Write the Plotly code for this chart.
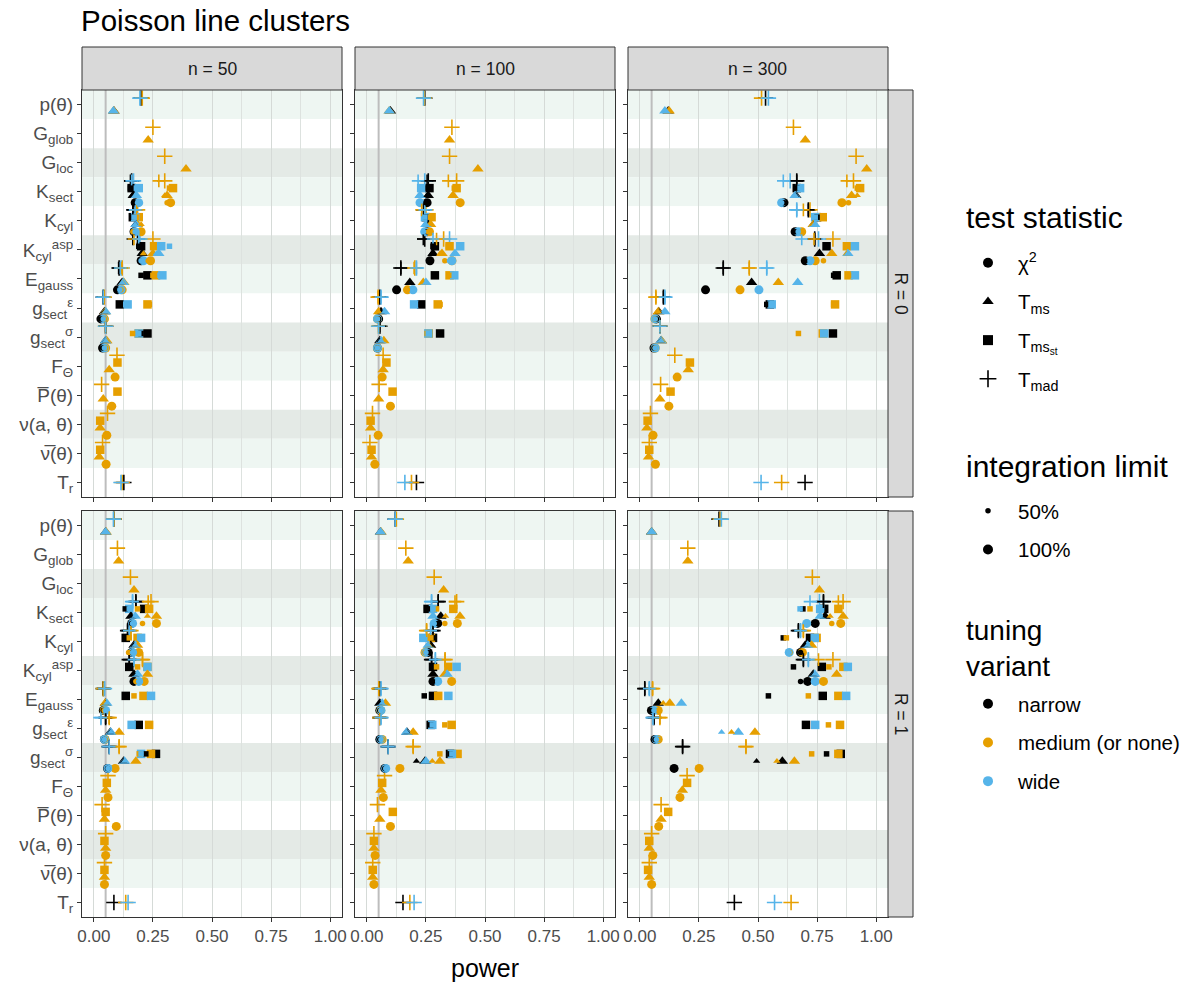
import plotly.graph_objects as go

W, H = 1193, 985

# ---------------- data ----------------
cat_codes = ["p", "Gg", "Gl", "Ks", "Kc", "Ka", "E", "ge", "gs", "F", "Pb", "nu", "nub", "Tr"]
cat_labels = ["p(θ)", "G<sub>glob</sub>", "G<sub>loc</sub>", "K<sub>sect</sub>", "K<sub>cyl</sub>",
              "K<sub>cyl</sub><sup>asp</sup>", "E<sub>gauss</sub>", "g<sub>sect</sub><sup>ε</sup>",
              "g<sub>sect</sub><sup>σ</sup>", "F<sub>Θ</sub>", "P\u0305(θ)", "ν(a, θ)", "ν\u0305(θ)", "T<sub>r</sub>"]
n_labels = ["n = 50", "n = 100", "n = 300"]
r_labels = ["R = 0", "R = 1"]
x_ticks = [0, 0.25, 0.5, 0.75, 1.0]
x_ticklabels = ["0.00", "0.25", "0.50", "0.75", "1.00"]

# columns: category, statistic, narrow50, narrow100, medium50, medium100, wide50, wide100
N = None
r0_n50 = [
    ("p", "mad", N, 0.20, N, 0.205, N, 0.195), ("p", "ms", N, 0.085, N, 0.085, N, 0.083),
    ("Gg", "mad", N, N, N, 0.25, N, N), ("Gg", "ms", N, N, N, 0.23, N, N),
    ("Gl", "mad", N, N, N, 0.30, N, N), ("Gl", "ms", N, N, N, 0.39, N, N),
    ("Ks", "mad", 0.155, 0.16, 0.275, 0.30, 0.16, 0.168), ("Ks", "mst", 0.155, 0.16, 0.32, 0.335, 0.18, 0.19),
    ("Ks", "ms", 0.162, 0.167, 0.30, 0.31, 0.175, 0.18), ("Ks", "chi", 0.17, 0.175, 0.31, 0.325, 0.185, 0.19),
    ("Kc", "mad", 0.165, 0.17, 0.18, 0.185, 0.175, 0.175), ("Kc", "mst", 0.165, 0.165, 0.18, 0.19, 0.17, 0.175),
    ("Kc", "ms", 0.175, 0.18, 0.20, 0.185, 0.175, 0.178), ("Kc", "chi", 0.17, 0.17, 0.165, 0.20, 0.175, 0.175),
    ("Ka", "mad", 0.165, 0.185, 0.17, 0.25, 0.19, 0.195), ("Ka", "mst", 0.19, 0.20, 0.25, 0.255, 0.32, 0.285),
    ("Ka", "ms", 0.20, 0.205, 0.21, 0.25, 0.265, 0.275), ("Ka", "chi", 0.195, 0.20, 0.23, 0.24, 0.20, 0.21),
    ("E", "mad", 0.105, 0.107, 0.118, 0.12, 0.112, 0.115), ("E", "mst", 0.20, 0.227, 0.25, 0.263, 0.28, 0.29),
    ("E", "ms", 0.115, 0.12, 0.122, 0.127, 0.12, 0.125), ("E", "chi", 0.10, 0.10, 0.115, 0.12, 0.11, 0.115),
    ("ge", "mad", 0.04, 0.04, 0.044, 0.044, 0.04, 0.04), ("ge", "mst", 0.108, 0.11, 0.235, 0.227, 0.135, 0.143),
    ("ge", "ms", 0.045, 0.045, 0.048, 0.048, 0.05, 0.05), ("ge", "chi", 0.03, 0.03, 0.045, 0.045, 0.04, 0.04),
    ("gs", "mad", 0.05, 0.05, 0.05, 0.05, 0.05, 0.05), ("gs", "mst", 0.20, 0.227, 0.164, 0.19, 0.19, 0.19),
    ("gs", "ms", 0.05, 0.05, 0.055, 0.055, 0.05, 0.05), ("gs", "chi", 0.037, 0.037, 0.05, 0.05, 0.045, 0.045),
    ("F", "mad", N, N, N, 0.098, N, N), ("F", "mst", N, N, N, 0.10, N, N),
    ("F", "ms", N, N, N, 0.065, N, N), ("F", "chi", N, N, N, 0.09, N, N),
    ("Pb", "mad", N, N, N, 0.033, N, N), ("Pb", "mst", N, N, N, 0.10, N, N),
    ("Pb", "ms", N, N, N, 0.04, N, N), ("Pb", "chi", N, N, N, 0.076, N, N),
    ("nu", "mad", N, N, N, 0.058, N, N), ("nu", "mst", N, N, N, 0.027, N, N),
    ("nu", "ms", N, N, N, 0.027, N, N), ("nu", "chi", N, N, N, 0.055, N, N),
    ("nub", "mad", N, N, N, 0.037, N, N), ("nub", "mst", N, N, N, 0.027, N, N),
    ("nub", "ms", N, N, N, 0.023, N, N), ("nub", "chi", N, N, N, 0.052, N, N),
    ("Tr", "mad", N, 0.127, N, 0.12, N, 0.115),
]
r0_n100 = [
    ("p", "mad", N, 0.245, N, 0.243, N, 0.24), ("p", "ms", N, 0.10, N, 0.095, N, 0.095),
    ("Gg", "mad", N, N, N, 0.36, N, N), ("Gg", "ms", N, N, N, 0.35, N, N),
    ("Gl", "mad", N, N, N, 0.35, N, N), ("Gl", "ms", N, N, N, 0.47, N, N),
    ("Ks", "mad", 0.255, 0.26, 0.345, 0.38, 0.217, 0.245), ("Ks", "mst", 0.26, 0.265, 0.37, 0.38, 0.225, 0.23),
    ("Ks", "ms", 0.255, 0.26, 0.36, 0.365, 0.22, 0.225), ("Ks", "chi", 0.25, 0.255, 0.39, 0.395, 0.22, 0.225),
    ("Kc", "mad", 0.24, 0.24, 0.232, 0.25, 0.245, 0.245), ("Kc", "mst", 0.25, 0.25, 0.27, 0.274, 0.246, 0.246),
    ("Kc", "ms", 0.26, 0.26, 0.265, 0.27, 0.25, 0.25), ("Kc", "chi", 0.255, 0.255, 0.26, 0.265, 0.24, 0.245),
    ("Ka", "mad", 0.239, 0.245, 0.295, 0.325, 0.28, 0.35), ("Ka", "mst", 0.28, 0.288, 0.345, 0.35, 0.39, 0.395),
    ("Ka", "ms", 0.275, 0.28, 0.31, 0.318, 0.37, 0.373), ("Ka", "chi", 0.265, 0.267, 0.33, 0.36, 0.35, 0.36),
    ("E", "mad", 0.144, 0.144, 0.20, 0.203, 0.21, 0.21), ("E", "mst", 0.288, 0.288, 0.35, 0.35, 0.37, 0.37),
    ("E", "ms", 0.182, 0.182, 0.239, 0.239, 0.25, 0.25), ("E", "chi", 0.126, 0.126, 0.172, 0.172, 0.195, 0.195),
    ("ge", "mad", 0.055, 0.055, 0.048, 0.048, 0.06, 0.06), ("ge", "mst", 0.23, 0.23, 0.31, 0.30, 0.20, 0.20),
    ("ge", "ms", 0.06, 0.06, 0.05, 0.05, 0.075, 0.075), ("ge", "chi", 0.05, 0.05, 0.045, 0.045, 0.045, 0.045),
    ("gs", "mad", 0.055, 0.055, 0.05, 0.05, 0.05, 0.05), ("gs", "mst", 0.31, 0.31, 0.255, 0.262, 0.26, 0.26),
    ("gs", "ms", 0.055, 0.055, 0.072, 0.072, 0.06, 0.06), ("gs", "chi", 0.045, 0.045, 0.045, 0.045, 0.045, 0.045),
    ("F", "mad", N, N, N, 0.069, N, N), ("F", "mst", N, N, N, 0.083, N, N),
    ("F", "ms", N, N, N, 0.069, N, N), ("F", "chi", N, N, N, 0.065, N, N),
    ("Pb", "mad", N, N, N, 0.052, N, N), ("Pb", "mst", N, N, N, 0.109, N, N),
    ("Pb", "ms", N, N, N, 0.05, N, N), ("Pb", "chi", N, N, N, 0.10, N, N),
    ("nu", "mad", N, N, N, 0.024, N, N), ("nu", "mst", N, N, N, 0.016, N, N),
    ("nu", "ms", N, N, N, 0.016, N, N), ("nu", "chi", N, N, N, 0.048, N, N),
    ("nub", "mad", N, N, N, 0.013, N, N), ("nub", "mst", N, N, N, 0.02, N, N),
    ("nub", "ms", N, N, N, 0.02, N, N), ("nub", "chi", N, N, N, 0.034, N, N),
    ("Tr", "mad", N, 0.21, N, 0.189, N, 0.161),
]
r0_n300 = [
    ("p", "mad", N, 0.532, N, 0.515, N, 0.544), ("p", "ms", N, 0.12, N, 0.124, N, 0.106),
    ("Gg", "mad", N, N, N, 0.65, N, N), ("Gg", "ms", N, N, N, 0.70, N, N),
    ("Gl", "mad", N, N, N, 0.915, N, N), ("Gl", "ms", N, N, N, 0.96, N, N),
    ("Ks", "mad", 0.664, 0.664, 0.876, 0.904, 0.607, 0.636), ("Ks", "mst", 0.664, 0.664, 0.92, 0.932, 0.678, 0.678),
    ("Ks", "ms", 0.66, 0.66, 0.92, 0.896, 0.657, 0.657), ("Ks", "chi", 0.61, 0.61, 0.883, 0.855, 0.60, 0.60),
    ("Kc", "mad", 0.713, 0.713, 0.692, 0.72, 0.664, 0.664), ("Kc", "mst", 0.75, 0.75, 0.774, 0.774, 0.742, 0.742),
    ("Kc", "ms", 0.735, 0.735, 0.734, 0.734, 0.74, 0.74), ("Kc", "chi", 0.657, 0.657, 0.685, 0.685, 0.67, 0.67),
    ("Ka", "mad", 0.74, 0.74, 0.737, 0.817, 0.685, 0.756), ("Ka", "mst", 0.79, 0.79, 0.876, 0.876, 0.91, 0.91),
    ("Ka", "ms", 0.76, 0.76, 0.875, 0.812, 0.88, 0.88), ("Ka", "chi", 0.70, 0.70, 0.777, 0.742, 0.72, 0.72),
    ("E", "mad", 0.353, 0.353, 0.463, 0.463, 0.537, 0.537), ("E", "mst", 0.82, 0.833, 0.883, 0.883, 0.91, 0.91),
    ("E", "ms", 0.473, 0.473, 0.586, 0.586, 0.668, 0.668), ("E", "chi", 0.278, 0.278, 0.424, 0.424, 0.504, 0.504),
    ("ge", "mad", 0.10, 0.10, 0.068, 0.068, 0.106, 0.106), ("ge", "mst", 0.537, 0.55, 0.82, 0.826, 0.555, 0.558),
    ("ge", "ms", 0.08, 0.08, 0.078, 0.078, 0.106, 0.106), ("ge", "chi", 0.07, 0.07, 0.064, 0.064, 0.065, 0.065),
    ("gs", "mad", 0.085, 0.085, 0.085, 0.085, 0.085, 0.085), ("gs", "mst", 0.817, 0.817, 0.671, 0.774, 0.78, 0.78),
    ("gs", "ms", 0.09, 0.09, 0.092, 0.092, 0.09, 0.09), ("gs", "chi", 0.06, 0.06, 0.065, 0.065, 0.065, 0.065),
    ("F", "mad", N, N, N, 0.148, N, N), ("F", "mst", N, N, N, 0.212, N, N),
    ("F", "ms", N, N, N, 0.205, N, N), ("F", "chi", N, N, N, 0.158, N, N),
    ("Pb", "mad", N, N, N, 0.088, N, N), ("Pb", "mst", N, N, N, 0.13, N, N),
    ("Pb", "ms", N, N, N, 0.085, N, N), ("Pb", "chi", N, N, N, 0.123, N, N),
    ("nu", "mad", N, N, N, 0.045, N, N), ("nu", "mst", N, N, N, 0.033, N, N),
    ("nu", "ms", N, N, N, 0.03, N, N), ("nu", "chi", N, N, N, 0.056, N, N),
    ("nub", "mad", N, N, N, 0.04, N, N), ("nub", "mst", N, N, N, 0.04, N, N),
    ("nub", "ms", N, N, N, 0.037, N, N), ("nub", "chi", N, N, N, 0.066, N, N),
    ("Tr", "mad", N, 0.699, N, 0.60, N, 0.513),
]
r1_n50 = [
    ("p", "mad", N, 0.085, N, 0.085, N, 0.083), ("p", "ms", N, 0.05, N, 0.052, N, 0.05),
    ("Gg", "mad", N, N, N, 0.10, N, N), ("Gg", "ms", N, N, N, 0.105, N, N),
    ("Gl", "mad", N, N, N, 0.155, N, N), ("Gl", "ms", N, N, N, 0.17, N, N),
    ("Ks", "mad", 0.178, 0.178, 0.23, 0.242, 0.164, 0.164), ("Ks", "mst", 0.133, 0.213, 0.185, 0.234, 0.15, 0.15),
    ("Ks", "ms", 0.157, 0.157, 0.227, 0.265, 0.175, 0.175), ("Ks", "chi", 0.16, 0.16, 0.206, 0.265, 0.164, 0.164),
    ("Kc", "mad", 0.143, 0.143, 0.157, 0.157, 0.15, 0.15), ("Kc", "mst", 0.135, 0.135, 0.15, 0.185, 0.20, 0.20),
    ("Kc", "ms", 0.17, 0.17, 0.185, 0.185, 0.175, 0.175), ("Kc", "chi", 0.16, 0.16, 0.147, 0.19, 0.164, 0.164),
    ("Ka", "mad", 0.15, 0.15, 0.206, 0.206, 0.17, 0.17), ("Ka", "mst", 0.15, 0.15, 0.185, 0.227, 0.227, 0.227),
    ("Ka", "ms", 0.17, 0.17, 0.227, 0.227, 0.185, 0.185), ("Ka", "chi", 0.17, 0.17, 0.178, 0.213, 0.19, 0.19),
    ("E", "mad", 0.04, 0.04, 0.04, 0.04, 0.045, 0.045), ("E", "mst", 0.135, 0.135, 0.17, 0.21, 0.242, 0.242),
    ("E", "ms", 0.05, 0.05, 0.048, 0.048, 0.055, 0.055), ("E", "chi", 0.04, 0.04, 0.044, 0.044, 0.05, 0.05),
    ("ge", "mad", 0.05, 0.05, 0.065, 0.065, 0.03, 0.03), ("ge", "mst", 0.19, 0.19, 0.234, 0.234, 0.16, 0.16),
    ("ge", "ms", 0.07, 0.07, 0.107, 0.107, 0.072, 0.072), ("ge", "chi", 0.045, 0.045, 0.048, 0.048, 0.045, 0.045),
    ("gs", "mad", 0.065, 0.065, 0.107, 0.107, 0.065, 0.065), ("gs", "mst", 0.22, 0.263, 0.192, 0.242, 0.20, 0.20),
    ("gs", "ms", 0.126, 0.126, 0.178, 0.178, 0.13, 0.13), ("gs", "chi", 0.058, 0.058, 0.09, 0.09, 0.06, 0.06),
    ("F", "mad", N, N, N, 0.06, N, N), ("F", "mst", N, N, N, 0.055, N, N),
    ("F", "ms", N, N, N, 0.05, N, N), ("F", "chi", N, N, N, 0.06, N, N),
    ("Pb", "mad", N, N, N, 0.035, N, N), ("Pb", "mst", N, N, N, 0.05, N, N),
    ("Pb", "ms", N, N, N, 0.045, N, N), ("Pb", "chi", N, N, N, 0.095, N, N),
    ("nu", "mad", N, N, N, 0.05, N, N), ("nu", "mst", N, N, N, 0.045, N, N),
    ("nu", "ms", N, N, N, 0.05, N, N), ("nu", "chi", N, N, N, 0.05, N, N),
    ("nub", "mad", N, N, N, 0.045, N, N), ("nub", "mst", N, N, N, 0.045, N, N),
    ("nub", "ms", N, N, N, 0.045, N, N), ("nub", "chi", N, N, N, 0.045, N, N),
    ("Tr", "mad", N, 0.085, N, 0.135, N, 0.145),
]
r1_n100 = [
    ("p", "mad", N, 0.12, N, 0.125, N, 0.12), ("p", "ms", N, 0.058, N, 0.06, N, 0.058),
    ("Gg", "mad", N, N, N, 0.165, N, N), ("Gg", "ms", N, N, N, 0.175, N, N),
    ("Gl", "mad", N, N, N, 0.285, N, N), ("Gl", "ms", N, N, N, 0.325, N, N),
    ("Ks", "mad", 0.302, 0.302, 0.373, 0.38, 0.274, 0.274), ("Ks", "mst", 0.257, 0.257, 0.295, 0.366, 0.28, 0.28),
    ("Ks", "ms", 0.313, 0.313, 0.333, 0.394, 0.28, 0.28), ("Ks", "chi", 0.30, 0.30, 0.33, 0.383, 0.285, 0.285),
    ("Kc", "mad", 0.28, 0.28, 0.253, 0.253, 0.27, 0.27), ("Kc", "mst", 0.28, 0.28, 0.271, 0.271, 0.239, 0.239),
    ("Kc", "ms", 0.27, 0.27, 0.263, 0.263, 0.26, 0.26), ("Kc", "chi", 0.26, 0.26, 0.246, 0.246, 0.25, 0.25),
    ("Ka", "mad", 0.274, 0.274, 0.331, 0.331, 0.29, 0.29), ("Ka", "mst", 0.28, 0.28, 0.295, 0.345, 0.38, 0.38),
    ("Ka", "ms", 0.28, 0.28, 0.33, 0.33, 0.34, 0.34), ("Ka", "chi", 0.28, 0.28, 0.359, 0.359, 0.30, 0.30),
    ("E", "mad", 0.055, 0.055, 0.051, 0.051, 0.06, 0.06), ("E", "mst", 0.243, 0.28, 0.302, 0.302, 0.345, 0.345),
    ("E", "ms", 0.055, 0.055, 0.079, 0.079, 0.065, 0.065), ("E", "chi", 0.055, 0.055, 0.059, 0.059, 0.06, 0.06),
    ("ge", "mad", 0.055, 0.055, 0.055, 0.055, 0.06, 0.06), ("ge", "mst", 0.27, 0.27, 0.33, 0.359, 0.277, 0.277),
    ("ge", "ms", 0.17, 0.17, 0.196, 0.196, 0.168, 0.168), ("ge", "chi", 0.055, 0.055, 0.065, 0.065, 0.06, 0.06),
    ("gs", "mad", 0.09, 0.09, 0.196, 0.196, 0.09, 0.09), ("gs", "mst", 0.352, 0.352, 0.309, 0.384, 0.36, 0.36),
    ("gs", "ms", 0.21, 0.246, 0.277, 0.309, 0.25, 0.25), ("gs", "chi", 0.076, 0.076, 0.14, 0.14, 0.08, 0.08),
    ("F", "mad", N, N, N, 0.075, N, N), ("F", "mst", N, N, N, 0.065, N, N),
    ("F", "ms", N, N, N, 0.06, N, N), ("F", "chi", N, N, N, 0.07, N, N),
    ("Pb", "mad", N, N, N, 0.045, N, N), ("Pb", "mst", N, N, N, 0.11, N, N),
    ("Pb", "ms", N, N, N, 0.055, N, N), ("Pb", "chi", N, N, N, 0.10, N, N),
    ("nu", "mad", N, N, N, 0.03, N, N), ("nu", "mst", N, N, N, 0.03, N, N),
    ("nu", "ms", N, N, N, 0.03, N, N), ("nu", "chi", N, N, N, 0.035, N, N),
    ("nub", "mad", N, N, N, 0.025, N, N), ("nub", "mst", N, N, N, 0.025, N, N),
    ("nub", "ms", N, N, N, 0.025, N, N), ("nub", "chi", N, N, N, 0.03, N, N),
    ("Tr", "mad", N, 0.153, N, 0.182, N, 0.20),
]
r1_n300 = [
    ("p", "mad", N, 0.335, N, 0.34, N, 0.345), ("p", "ms", N, 0.05, N, 0.05, N, 0.05),
    ("Gg", "mad", N, N, N, 0.203, N, N), ("Gg", "ms", N, N, N, 0.203, N, N),
    ("Gl", "mad", N, N, N, 0.73, N, N), ("Gl", "ms", N, N, N, 0.76, N, N),
    ("Ks", "mad", 0.777, 0.777, 0.84, 0.86, 0.72, 0.76), ("Ks", "mst", 0.69, 0.78, 0.72, 0.84, 0.678, 0.763),
    ("Ks", "ms", 0.784, 0.784, 0.805, 0.86, 0.763, 0.763), ("Ks", "chi", 0.742, 0.742, 0.812, 0.85, 0.706, 0.706),
    ("Kc", "mad", 0.671, 0.671, 0.692, 0.692, 0.68, 0.68), ("Kc", "mst", 0.607, 0.72, 0.62, 0.748, 0.74, 0.74),
    ("Kc", "ms", 0.70, 0.70, 0.727, 0.727, 0.71, 0.71), ("Kc", "chi", 0.68, 0.68, 0.635, 0.688, 0.632, 0.632),
    ("Ka", "mad", 0.692, 0.692, 0.756, 0.817, 0.713, 0.713), ("Ka", "mst", 0.65, 0.77, 0.80, 0.861, 0.88, 0.88),
    ("Ka", "ms", 0.734, 0.734, 0.833, 0.833, 0.74, 0.74), ("Ka", "chi", 0.68, 0.71, 0.77, 0.777, 0.742, 0.742),
    ("E", "mad", 0.021, 0.021, 0.054, 0.054, 0.04, 0.04), ("E", "mst", 0.544, 0.774, 0.713, 0.84, 0.873, 0.873),
    ("E", "ms", 0.078, 0.078, 0.099, 0.127, 0.176, 0.176), ("E", "chi", 0.049, 0.049, 0.078, 0.078, 0.06, 0.06),
    ("ge", "mad", 0.06, 0.06, 0.085, 0.085, 0.056, 0.056), ("ge", "mst", 0.703, 0.703, 0.798, 0.847, 0.742, 0.742),
    ("ge", "ms", N, N, 0.388, 0.487, 0.346, 0.417), ("ge", "chi", 0.064, 0.064, 0.078, 0.078, 0.07, 0.07),
    ("gs", "mad", 0.181, 0.181, 0.449, 0.449, N, N), ("gs", "mst", 0.79, 0.85, 0.727, 0.84, N, N),
    ("gs", "ms", 0.494, 0.603, 0.58, 0.654, N, N), ("gs", "chi", 0.145, 0.145, 0.251, 0.251, N, N),
    ("F", "mad", N, N, N, 0.20, N, N), ("F", "mst", N, N, N, 0.20, N, N),
    ("F", "ms", N, N, N, 0.18, N, N), ("F", "chi", N, N, N, 0.17, N, N),
    ("Pb", "mad", N, N, N, 0.09, N, N), ("Pb", "mst", N, N, N, 0.12, N, N),
    ("Pb", "ms", N, N, N, 0.09, N, N), ("Pb", "chi", N, N, N, 0.08, N, N),
    ("nu", "mad", N, N, N, 0.05, N, N), ("nu", "mst", N, N, N, 0.04, N, N),
    ("nu", "ms", N, N, N, 0.04, N, N), ("nu", "chi", N, N, N, 0.055, N, N),
    ("nub", "mad", N, N, N, 0.04, N, N), ("nub", "mst", N, N, N, 0.035, N, N),
    ("nub", "ms", N, N, N, 0.04, N, N), ("nub", "chi", N, N, N, 0.05, N, N),
    ("Tr", "mad", N, 0.40, N, 0.64, N, 0.57),
]
panels = [[r0_n50, r0_n100, r0_n300], [r1_n50, r1_n100, r1_n300]]

# ---------------- style ----------------
FONT = "Liberation Sans, Arial, sans-serif"
COL = {"n": "#000000", "m": "#E69F00", "w": "#56B4E9"}
stat_order = ["mad", "mst", "ms", "chi"]
SYM = {"chi": "circle", "ms": "triangle-up", "mst": "square", "mad": "cross-thin"}
SIZE = {("chi", 100): 9, ("chi", 50): 5.5, ("ms", 100): 10, ("ms", 50): 6.5,
        ("mst", 100): 8.5, ("mst", 50): 5.5, ("mad", 100): 11, ("mad", 50): 9}
band_cols = ["#EEF6F2", "#FFFFFF", "#E4EAE6"]

col_px = [(82, 342), (355, 615), (628, 888)]
row_px = [(90, 497), (511, 917)]

def px_x(v):
    return v / W

def px_y(v):
    return 1 - v / H

fig = go.Figure()
shapes, annotations = [], []
layout = dict(width=W, height=H, margin=dict(l=0, r=0, t=0, b=0, autoexpand=False),
              paper_bgcolor="white", plot_bgcolor="white",
              font=dict(family=FONT, color="#1A1A1A"))

tv = ["n50", "n100", "m50", "m100", "w50", "w100"]

for r in range(2):
    for c in range(3):
        k = r * 3 + c + 1
        xa = "x" if k == 1 else f"x{k}"
        ya = "y" if k == 1 else f"y{k}"
        xk = "xaxis" if k == 1 else f"xaxis{k}"
        yk = "yaxis" if k == 1 else f"yaxis{k}"
        layout[xk] = dict(domain=[px_x(col_px[c][0]), px_x(col_px[c][1])], anchor=ya, automargin=False,
                          range=[-0.05, 1.05], tickmode="array", tickvals=x_ticks, ticktext=x_ticklabels,
                          showticklabels=(r == 1), ticks="outside", ticklen=4, tickcolor="#333333",
                          tickfont=dict(size=17, color="#4D4D4D"),
                          showgrid=True, gridcolor="#D5DAD7", gridwidth=1.2, zeroline=False,
                          minor=dict(tickmode="array", tickvals=[0.125, 0.375, 0.625, 0.875],
                                     showgrid=True, gridcolor="#DDE2DF", gridwidth=0.9, ticks=""),
                          showline=True, mirror=True, linecolor="#333333", linewidth=1)
        layout[yk] = dict(domain=[px_y(row_px[r][1]), px_y(row_px[r][0])], anchor=xa, automargin=False,
                          range=[13.5, -0.5], tickmode="array", tickvals=list(range(14)), ticktext=cat_labels,
                          showticklabels=(c == 0), ticks="outside", ticklen=4, tickcolor="#333333",
                          tickfont=dict(size=19, color="#4D4D4D"), showgrid=False, zeroline=False,
                          showline=True, mirror=True, linecolor="#333333", linewidth=1)
        for i in range(14):
            shapes.append(dict(type="rect", xref=f"{xa} domain", yref=ya, x0=0, x1=1,
                               y0=i - 0.5, y1=i + 0.5, fillcolor=band_cols[i % 3],
                               line=dict(width=0), layer="below"))
        shapes.append(dict(type="line", xref=xa, yref=f"{ya} domain", x0=0.05, x1=0.05,
                           y0=0, y1=1, line=dict(color="#BDBDBD", width=2), layer="below"))

        data = panels[r][c]
        stats_in_cat = {}
        for row in data:
            stats_in_cat.setdefault(row[0], []).append(row[1])
        for lim in (100, 50):
            for s in stat_order:
                xs, ys, cs = [], [], []
                for row in data:
                    cat, st = row[0], row[1]
                    if st != s:
                        continue
                    present = [q for q in stat_order if q in stats_in_cat[cat]]
                    m = len(present)
                    if m == 1:
                        off = 0.0
                    elif m == 2:
                        off = -0.22 if present.index(s) == 0 else 0.22
                    else:
                        off = (present.index(s) - (m - 1) / 2) * 0.25
                    yv = cat_codes.index(cat) + off
                    for j, key in enumerate(tv):
                        val = row[2 + j]
                        if val is None or int(key[1:]) != lim:
                            continue
                        xs.append(val)
                        ys.append(yv)
                        cs.append(COL[key[0]])
                if not xs:
                    continue
                mk = dict(symbol=SYM[s], size=SIZE[(s, lim)], color=cs)
                if s == "mad":
                    mk["line"] = dict(color=cs, width=1.6)
                else:
                    mk["line"] = dict(width=0)
                fig.add_trace(go.Scatter(x=xs, y=ys, mode="markers", marker=mk, xaxis=xa, yaxis=ya,
                                         showlegend=False, hoverinfo="skip"))

# strips
for c in range(3):
    shapes.append(dict(type="rect", xref="paper", yref="paper", x0=px_x(col_px[c][0]),
                       x1=px_x(col_px[c][1]), y0=px_y(90), y1=px_y(47),
                       fillcolor="#D9D9D9", line=dict(color="#333333", width=1), layer="above"))
    annotations.append(dict(text=n_labels[c], xref="paper", yref="paper",
                            x=px_x((col_px[c][0] + col_px[c][1]) / 2), y=px_y(69),
                            xanchor="center", yanchor="middle",
                            showarrow=False, font=dict(size=17.5, color="#1A1A1A")))
for r in range(2):
    shapes.append(dict(type="rect", xref="paper", yref="paper", x0=px_x(888), x1=px_x(913),
                       y0=px_y(row_px[r][1]), y1=px_y(row_px[r][0]),
                       fillcolor="#D9D9D9", line=dict(color="#333333", width=1), layer="above"))
    annotations.append(dict(text=r_labels[r], xref="paper", yref="paper", x=px_x(901),
                            y=px_y((row_px[r][0] + row_px[r][1]) / 2), textangle=90,
                            xanchor="center", yanchor="middle",
                            showarrow=False, font=dict(size=17.5, color="#1A1A1A")))

annotations.append(dict(text="power", xref="paper", yref="paper", x=px_x(485), y=px_y(968),
                        xanchor="center", yanchor="middle",
                        showarrow=False, font=dict(size=25, color="#000000")))

# legend titles
leg_titles = [("test statistic", 218, 30), ("integration limit", 466, 30), ("tuning<br>variant", 648, 28)]
for txt, yy, fs in leg_titles:
    annotations.append(dict(text=txt, xref="paper", yref="paper", x=px_x(964), y=px_y(yy),
                            xanchor="left", yanchor="middle", align="left", showarrow=False,
                            font=dict(size=fs, color="#000000")))

layout["shapes"] = shapes
layout["annotations"] = annotations
layout["title"] = dict(text="Poisson line clusters", x=px_x(81), xanchor="left", y=px_y(21),
                       yanchor="middle", font=dict(size=29.5, color="#000000"))

# legends
leg_common = dict(bgcolor="rgba(0,0,0,0)", font=dict(size=20.5, color="#000000"), traceorder="grouped",
                  tracegroupgap=9, itemsizing="trace", itemwidth=50, x=px_x(958), xanchor="left",
                  yanchor="top")
layout["legend"] = dict(leg_common, y=px_y(243))
layout["legend2"] = dict(leg_common, y=px_y(491))
layout["legend3"] = dict(leg_common, y=px_y(684))

stat_names = [("chi", "χ<sup>2</sup>"), ("ms", "T<sub>ms</sub>"), ("mst", "T<sub>ms<sub>st</sub></sub>"),
              ("mad", "T<sub>mad</sub>")]
for i, (s, nm) in enumerate(stat_names):
    mk = dict(symbol=SYM[s], size=10 if s != "mad" else 12, color="#000000")
    if s == "mad":
        mk["line"] = dict(color="#000000", width=1.6)
    fig.add_trace(go.Scatter(x=[None], y=[None], mode="markers", marker=mk, name=nm, legend="legend",
                             legendgroup=f"s{i}", showlegend=True))
for i, (sz, nm) in enumerate([(5.5, "50%"), (10, "100%")]):
    fig.add_trace(go.Scatter(x=[None], y=[None], mode="markers", marker=dict(symbol="circle", size=sz,
                             color="#000000"), name=nm, legend="legend2", legendgroup=f"l{i}", showlegend=True))
for i, (t, nm) in enumerate([("n", "narrow"), ("m", "medium (or none)"), ("w", "wide")]):
    fig.add_trace(go.Scatter(x=[None], y=[None], mode="markers", marker=dict(symbol="circle", size=10,
                             color=COL[t]), name=nm, legend="legend3", legendgroup=f"t{i}", showlegend=True))

fig.update_layout(**layout)
fig.write_html("out.html")
